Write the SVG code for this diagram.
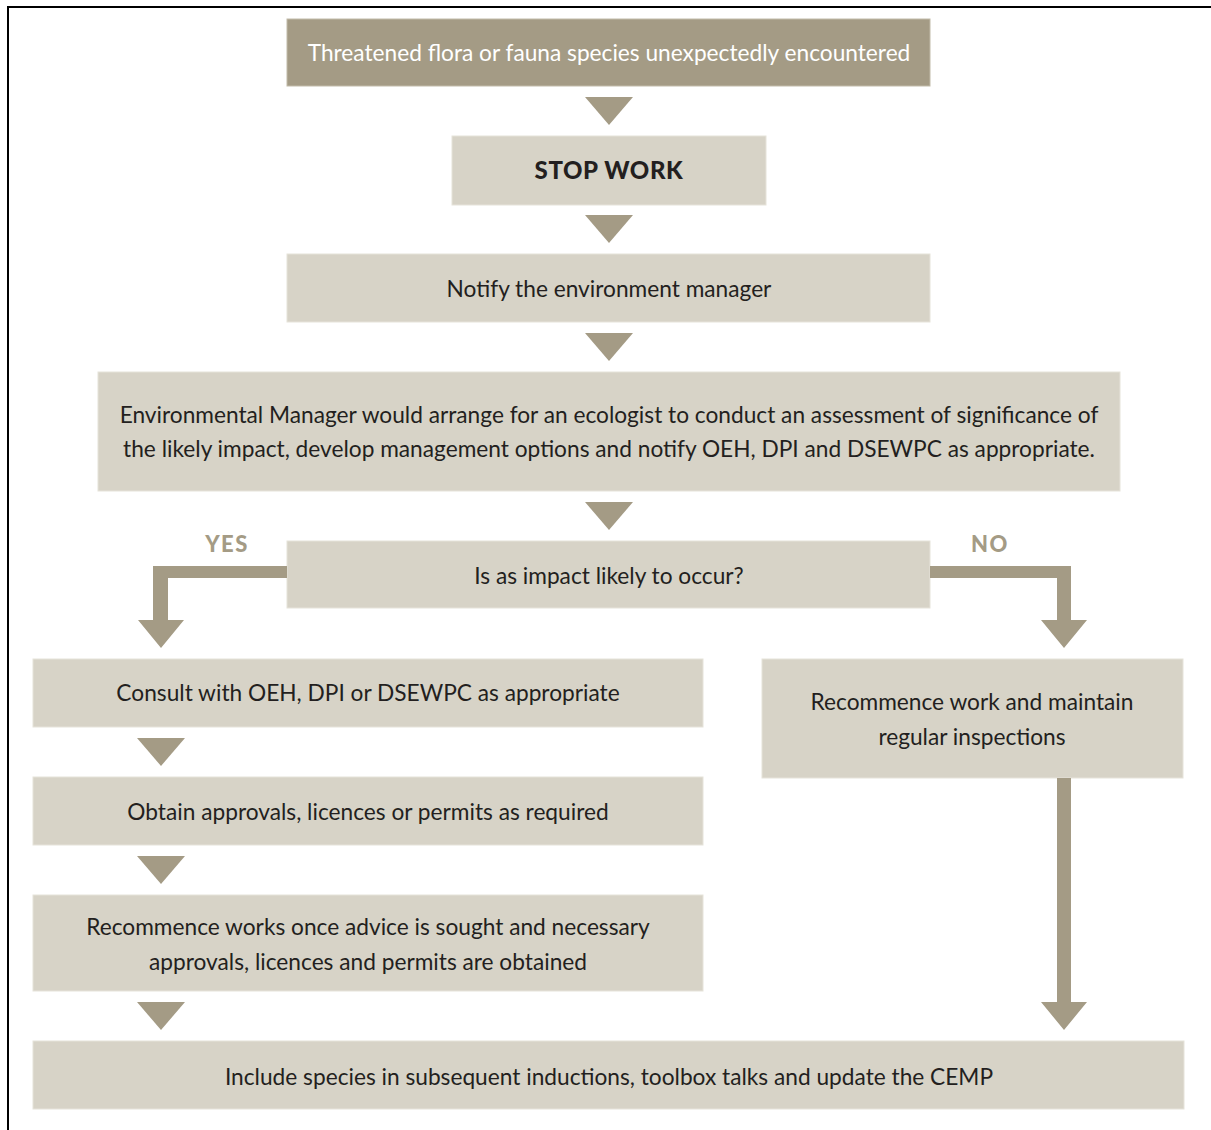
<svg xmlns="http://www.w3.org/2000/svg" width="1211" height="1130" viewBox="0 0 1211 1130">
<style>
.lt{fill:#d7d3c7;stroke:#e6e3da;stroke-width:1}
.dk{fill:#a49b85;stroke:#c2bba9;stroke-width:1}
.arr{fill:#a49b85}
text{font-family:Lato,"Open Sans","DejaVu Sans",sans-serif;font-size:22.7px;text-anchor:middle;fill:#231f20}
.w{fill:#ffffff}
.b{font-weight:900;font-size:24px;letter-spacing:0.6px}
.lbl{font-weight:900;fill:#a49b85;font-size:22px;letter-spacing:1.5px}
</style>
<rect width="1211" height="1130" fill="#ffffff"/>
<path d="M8,1130 V7 H1211" fill="none" stroke="#000" stroke-width="2"/>
<g id="n1"><rect class="dk" x="287" y="19" width="643" height="67"/><text class="w" x="609" y="61">Threatened flora or fauna species unexpectedly encountered</text></g>
<g id="n2"><rect class="lt" x="452" y="136" width="314" height="69"/><text class="b" x="609" y="179">STOP WORK</text></g>
<g id="n3"><rect class="lt" x="287" y="254" width="643" height="68"/><text x="609" y="297">Notify the environment manager</text></g>
<g id="n4"><rect class="lt" x="98" y="372" width="1022" height="119"/><text x="609" y="423">Environmental Manager would arrange for an ecologist to conduct an assessment of significance of</text><text x="609" y="457">the likely impact, develop management options and notify OEH, DPI and DSEWPC as appropriate.</text></g>
<g id="n5"><rect class="lt" x="287" y="541" width="643" height="67"/><text x="609" y="584">Is as impact likely to occur?</text></g>
<g id="n6"><rect class="lt" x="33" y="659" width="670" height="68"/><text x="368" y="701">Consult with OEH, DPI or DSEWPC as appropriate</text></g>
<g id="n7"><rect class="lt" x="762" y="659" width="421" height="119"/><text x="972" y="710">Recommence work and maintain</text><text x="972" y="745">regular inspections</text></g>
<g id="n8"><rect class="lt" x="33" y="777" width="670" height="68"/><text x="368" y="820">Obtain approvals, licences or permits as required</text></g>
<g id="n9"><rect class="lt" x="33" y="895" width="670" height="96"/><text x="368" y="935">Recommence works once advice is sought and necessary</text><text x="368" y="970">approvals, licences and permits are obtained</text></g>
<g id="n10"><rect class="lt" x="33" y="1041" width="1151" height="68"/><text x="609" y="1085">Include species in subsequent inductions, toolbox talks and update the CEMP</text></g>
<g id="connectors">
<polygon class="arr" points="585,97 633,97 609,125"/>
<polygon class="arr" points="585,215 633,215 609,243"/>
<polygon class="arr" points="585,333 633,333 609,361"/>
<polygon class="arr" points="585,502 633,502 609,530"/>
<polygon class="arr" points="287,566 153,566 153,620 138,620 161,648 184,620 168,620 168,578 287,578"/>
<polygon class="arr" points="930,566 1071,566 1071,620 1087,620 1064,648 1041,620 1057,620 1057,578 930,578"/>
<polygon class="arr" points="137,738 185,738 161,766"/>
<polygon class="arr" points="137,856 185,856 161,884"/>
<polygon class="arr" points="137,1002 185,1002 161,1030"/>
<polygon class="arr" points="1057,778 1071,778 1071,1002 1087,1002 1064,1030 1041,1002 1057,1002"/>
<text class="lbl" x="227" y="552">YES</text>
<text class="lbl" x="990" y="552">NO</text>
</g>
</svg>
